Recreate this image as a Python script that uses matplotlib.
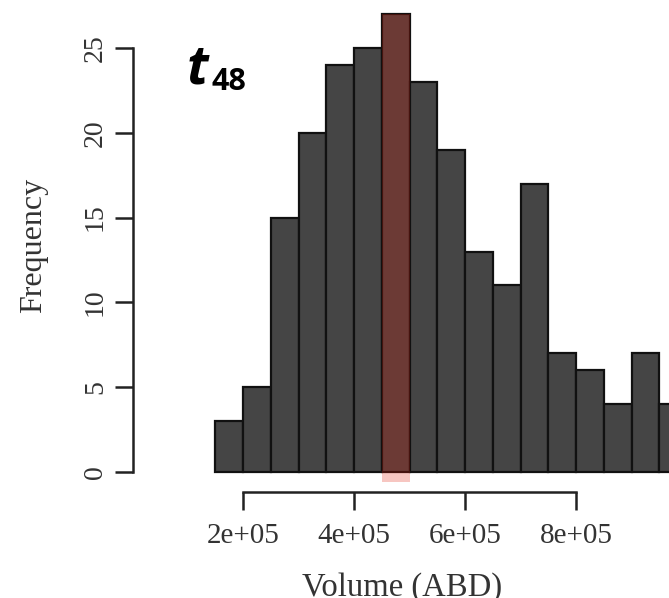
import matplotlib
matplotlib.use("Agg")
import matplotlib.pyplot as plt
from matplotlib.patches import Rectangle

# Histogram of cell volumes (ABD) at t48
bin_edges = [1.5e5, 2.0e5, 2.5e5, 3.0e5, 3.5e5, 4.0e5, 4.5e5, 5.0e5, 5.5e5,
             6.0e5, 6.5e5, 7.0e5, 7.5e5, 8.0e5, 8.5e5, 9.0e5, 9.5e5, 10.0e5]
counts = [3, 5, 15, 20, 24, 25, 27, 23, 19, 13, 11, 17, 7, 6, 4, 7, 4]
highlight_bin = (4.5e5, 5.0e5)
highlight_range = (-0.6, 27)
x_ticks = [2e5, 4e5, 6e5, 8e5]
x_tick_labels = ["2e+05", "4e+05", "6e+05", "8e+05"]
y_ticks = [0, 5, 10, 15, 20, 25]

W, H = 669, 598
fig = plt.figure(figsize=(W / 100, H / 100), dpi=100)
ax = fig.add_axes([0, 0, 1, 1])
ax.patch.set_alpha(0)

# pixel -> data calibration of the plotting region
px_per_1e5 = 55.5
px_x_2e5 = 243.0
px_per_unit_y = 16.96
px_y0 = 472.0
x_lo = 2e5 - px_x_2e5 / px_per_1e5 * 1e5
x_hi = 2e5 + (W - px_x_2e5) / px_per_1e5 * 1e5
y_hi = px_y0 / px_per_unit_y
y_lo = -(H - px_y0) / px_per_unit_y
ax.set_xlim(x_lo, x_hi)
ax.set_ylim(y_lo, y_hi)

widths = [b - a for a, b in zip(bin_edges[:-1], bin_edges[1:])]
ax.bar(bin_edges[:-1], counts, width=widths, align="edge",
       color="#454545", edgecolor="#111111", linewidth=1.6, zorder=2)

ax.add_patch(Rectangle((highlight_bin[0], highlight_range[0]),
                       highlight_bin[1] - highlight_bin[0],
                       highlight_range[1] - highlight_range[0],
                       facecolor=(0.886, 0.11, 0.03), alpha=0.25,
                       edgecolor="none", zorder=3))

# R-style detached axes
for s in ["top", "right"]:
    ax.spines[s].set_visible(False)
x_spine = 2e5 - (px_x_2e5 - 133) / px_per_1e5 * 1e5
y_spine = (px_y0 - 492) / px_per_unit_y
ax.spines["left"].set_position(("data", x_spine))
ax.spines["left"].set_bounds(0, 25)
ax.spines["bottom"].set_position(("data", y_spine))
ax.spines["bottom"].set_bounds(2e5, 8e5)
for s in ["left", "bottom"]:
    ax.spines[s].set_linewidth(1.8)
    ax.spines[s].set_color("#222222")

serif = ["Liberation Serif", "DejaVu Serif"]
ax.set_xticks(x_ticks)
ax.set_xticklabels(x_tick_labels, family=serif, fontsize=21, color="#333333")
ax.set_yticks(y_ticks)
ax.set_yticklabels([str(v) for v in y_ticks], family=serif, fontsize=20,
                   color="#333333", rotation=90, va="center")
ax.tick_params(axis="both", direction="out", length=13, width=1.8,
               color="#222222")
ax.tick_params(axis="x", pad=9)
ax.tick_params(axis="y", pad=5)

fig.text(402 / W, 1 - 588 / H, "Volume (ABD)", family=serif, fontsize=23.5,
         color="#333333", ha="center", va="center")
fig.text(34 / W, 1 - 245 / H, "Frequency", family=serif, fontsize=23,
         color="#333333", ha="center", va="center", rotation=90)

fig.text(187 / W, 1 - 83 / H, "t", family=["Open Sans", "DejaVu Sans"],
         fontsize=38, fontweight="bold", style="italic", color="black",
         ha="left", va="baseline")
fig.text(212 / W, 1 - 90 / H, "48",
         family=["Liberation Sans Narrow", "Open Sans", "DejaVu Sans"],
         fontsize=22, fontweight="bold", color="black",
         ha="left", va="baseline")

fig.savefig("out.png", dpi=100)
